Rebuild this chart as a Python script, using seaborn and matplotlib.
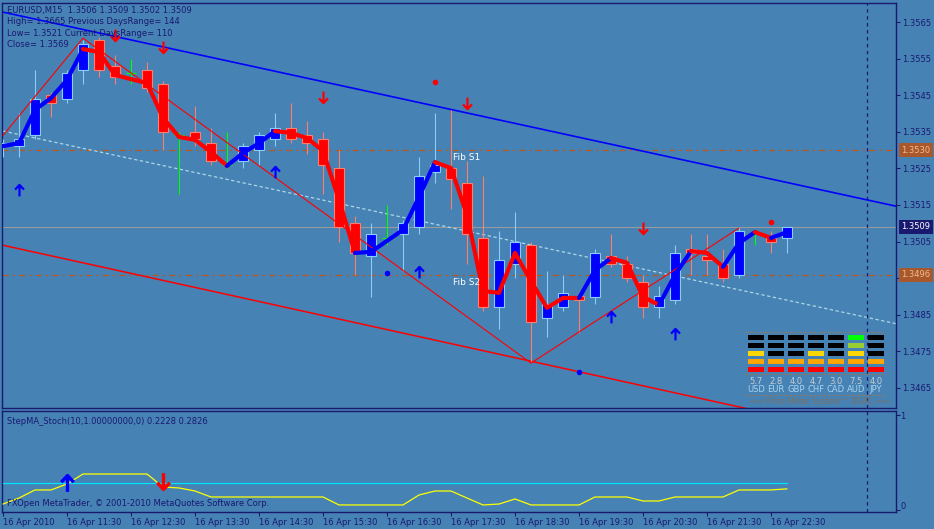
import numpy as np
import pandas as pd
import matplotlib
matplotlib.use("Agg")
import matplotlib.pyplot as plt
import matplotlib.transforms as mtransforms
from matplotlib.path import Path
import seaborn as sns

# ---------------- data ----------------
time_labels = ["16 Apr 2010", "16 Apr 11:30", "16 Apr 12:30", "16 Apr 13:30", "16 Apr 14:30",
               "16 Apr 15:30", "16 Apr 16:30", "16 Apr 17:30", "16 Apr 18:30", "16 Apr 19:30",
               "16 Apr 20:30", "16 Apr 21:30", "16 Apr 22:30"]
time_label_bars = [0, 4, 8, 12, 16, 20, 24, 28, 32, 36, 40, 44, 48]

opens = [1.3531, 1.3531, 1.3534, 1.3545, 1.3544, 1.3552, 1.3560, 1.3553, 1.3551, 1.3552,
         1.3548, 1.3534, 1.3535, 1.3532, 1.3526, 1.3527, 1.3530, 1.3533, 1.3536, 1.3534,
         1.3533, 1.3525, 1.3510, 1.3501, 1.3506, 1.3507, 1.3509, 1.3524, 1.3525, 1.3521,
         1.3506, 1.3487, 1.3499, 1.3504, 1.3484, 1.3487, 1.3490, 1.3490, 1.3501, 1.3499,
         1.3494, 1.3487, 1.3489, 1.3503, 1.3501, 1.3499, 1.3496, 1.3507, 1.3506, 1.3506]
highs = [1.3533, 1.3540, 1.3552, 1.3546, 1.3552, 1.3560, 1.3561, 1.3556, 1.3555, 1.3554,
         1.3549, 1.3535, 1.3542, 1.3536, 1.3535, 1.3532, 1.3535, 1.3540, 1.3543, 1.3538,
         1.3535, 1.3530, 1.3512, 1.3510, 1.3515, 1.3511, 1.3528, 1.3540, 1.3541, 1.3527,
         1.3523, 1.3508, 1.3513, 1.3505, 1.3497, 1.3496, 1.3491, 1.3503, 1.3507, 1.3501,
         1.3496, 1.3493, 1.3504, 1.3507, 1.3507, 1.3503, 1.3509, 1.3508, 1.3508, 1.3509]
lows = [1.3528, 1.3528, 1.3533, 1.3539, 1.3543, 1.3548, 1.3550, 1.3548, 1.3548, 1.3546,
        1.3530, 1.3518, 1.3531, 1.3526, 1.3525, 1.3525, 1.3526, 1.3531, 1.3532, 1.3529,
        1.3518, 1.3505, 1.3496, 1.3490, 1.3504, 1.3497, 1.3507, 1.3521, 1.3514, 1.3499,
        1.3486, 1.3481, 1.3495, 1.3472, 1.3479, 1.3486, 1.3480, 1.3488, 1.3498, 1.3494,
        1.3484, 1.3484, 1.3488, 1.3496, 1.3496, 1.3494, 1.3495, 1.3504, 1.3502, 1.3502]
closes = [1.3532, 1.3533, 1.3544, 1.3543, 1.3551, 1.3559, 1.3552, 1.3550, 1.3551, 1.3547,
          1.3535, 1.3534, 1.3533, 1.3527, 1.3526, 1.3531, 1.3534, 1.3536, 1.3533, 1.3532,
          1.3526, 1.3509, 1.3502, 1.3507, 1.3506, 1.3510, 1.3523, 1.3526, 1.3522, 1.3507,
          1.3487, 1.3500, 1.3505, 1.3483, 1.3488, 1.3491, 1.3489, 1.3502, 1.3499, 1.3495,
          1.3487, 1.3490, 1.3502, 1.3502, 1.3500, 1.3495, 1.3508, 1.3507, 1.3505, 1.3509]

step_ma = [1.35311, 1.35319, 1.35410, 1.35442, 1.35492, 1.35576, 1.35568, 1.35505, 1.35494, 1.35483,
           1.35388, 1.35336, 1.35328, 1.35295, 1.35257, 1.35292, 1.35319, 1.35352, 1.35347, 1.35333,
           1.35298, 1.35164, 1.35019, 1.35022, 1.35052, 1.35082, 1.35172, 1.35267, 1.35251, 1.35123,
           1.34915, 1.34910, 1.35019, 1.34942, 1.34869, 1.34896, 1.34896, 1.34972, 1.35005, 1.34992,
           1.34899, 1.34877, 1.34959, 1.35024, 1.35019, 1.34981, 1.35046, 1.35076, 1.35060, 1.35076]
# trend state of each segment (b = up / blue, r = down / red)
step_trend = "bbbbbrrrrrrrrrbbbrrrrrbbbbbrrrrrrrrrbbrrrbbrrbbrb"

stoch_main = [0.063, 0.126, 0.211, 0.211, 0.274, 0.379, 0.379, 0.379, 0.379, 0.379,
              0.242, 0.232, 0.200, 0.137, 0.137, 0.137, 0.137, 0.137, 0.137, 0.137,
              0.137, 0.053, 0.053, 0.053, 0.053, 0.053, 0.158, 0.200, 0.200, 0.126,
              0.053, 0.063, 0.116, 0.053, 0.053, 0.053, 0.053, 0.137, 0.137, 0.137,
              0.095, 0.095, 0.137, 0.137, 0.137, 0.137, 0.211, 0.211, 0.211, 0.2228]
stoch_signal = [0.2826] * 50

# chart objects
upper_trend_x = [0, 56]
upper_trend_y = [1.35677, 1.35145]
lower_trend_x = [0, 50]
lower_trend_y = [1.35040, 1.34560]
mid_trend_x = [0, 56]
mid_trend_y = [1.35352, 1.34824]
zigzag_x = [0, 5, 33, 46]
zigzag_y = [1.35340, 1.35606, 1.34718, 1.35087]
fib_levels = [1.3530, 1.3496]
fib_names = ["Fib S1", "Fib S2"]
fib_label_bar = 28.1
shift_bar = 54

up_arrow_bars = [1, 17, 26, 38, 42]
up_arrow_prices = [1.35191, 1.35240, 1.34967, 1.34844, 1.34798]
down_arrow_bars = [7, 10, 20, 29, 40]
down_arrow_prices = [1.35615, 1.35582, 1.35445, 1.35429, 1.35087]
red_dot_bars = [27, 48]
red_dot_prices = [1.35486, 1.35104]
blue_dot_bars = [24, 36]
blue_dot_prices = [1.34964, 1.34694]

sub_up_bar, sub_up_val = 4, 0.284
sub_dn_bar, sub_dn_val = 10, 0.305

price_ticks = [1.3565, 1.3555, 1.3545, 1.3535, 1.3525, 1.3515, 1.3505, 1.3495, 1.3485, 1.3475, 1.3465]

meter_currencies = ["USD", "EUR", "GBP", "CHF", "CAD", "AUD", "JPY"]
meter_values = [5.7, 2.8, 4.0, 4.7, 3.0, 7.5, 4.0]
meter_levels = [3, 2, 2, 3, 2, 5, 2]

header_lines = ["EURUSD,M15  1.3506 1.3509 1.3502 1.3509",
                "High= 1.3665 Previous DaysRange= 144",
                "Low= 1.3521 Current DaysRange= 110",
                "Close= 1.3569"]

# ---------------- style ----------------
BG = "#4682B4"
NAVY = "#191970"
FIB = "#b8581f"
sns.set_theme(style="white", rc={"axes.facecolor": BG, "figure.facecolor": BG})
plt.rcParams["font.family"] = ["DejaVu Sans"]
plt.rcParams["lines.scale_dashes"] = False

W, H = 934, 529
def fx(px):
    return px / W
def fy(py):
    return 1 - py / H

# arrow markers (chevron head + shaft)
UP_ARROW = Path([(-0.75, 0.15), (0.0, 0.95), (0.75, 0.15), (0.0, 0.95), (0.0, -1.0)],
                [Path.MOVETO, Path.LINETO, Path.LINETO, Path.MOVETO, Path.LINETO])
DN_ARROW = Path([(-0.75, -0.15), (0.0, -0.95), (0.75, -0.15), (0.0, -0.95), (0.0, 1.0)],
                [Path.MOVETO, Path.LINETO, Path.LINETO, Path.MOVETO, Path.LINETO])

fig = plt.figure(figsize=(W / 100, H / 100), dpi=100)
ax = fig.add_axes([fx(2), fy(408), fx(896) - fx(2), fy(3) - fy(408)])
axs = fig.add_axes([fx(2), fy(512), fx(896) - fx(2), fy(411) - fy(512)])

xlim = ((2 - 3) / 16, (896 - 3) / 16)
ax.set_xlim(*xlim)
ax.set_ylim(1.3565 - 386 / 36600, 1.3565 + 19 / 36600)
axs.set_xlim(*xlim)
axs.set_ylim(-0.021, 1.042)

for a in (ax, axs):
    a.set_facecolor(BG)
    for s in a.spines.values():
        s.set_color(NAVY)
        s.set_linewidth(1.0)

df = pd.DataFrame({"bar": np.arange(len(opens)), "open": opens, "high": highs,
                   "low": lows, "close": closes})
up = df[df.close > df.open]
dn = df[df.close < df.open]
dj = df[df.close == df.open]

# horizontal lines (behind candles)
ax.axhline(closes[-1], color="#9a9a9a", lw=0.8, zorder=1)
for lvl, name in zip(fib_levels, fib_names):
    ax.axhline(lvl, color=FIB, lw=0.9, dashes=(4.5, 3.0, 1.5, 3.0), zorder=1)
    ax.annotate(name, (fib_label_bar, lvl), xytext=(0, -2.2), textcoords="offset points",
                color="white", fontsize=6.5, ha="left", va="top", zorder=8)

ax.plot(mid_trend_x, mid_trend_y, color="#add8e6", lw=0.9, dashes=(2.4, 1.8), zorder=1.5)
ax.plot(upper_trend_x, upper_trend_y, color="#0000ff", lw=1.2, zorder=1.5)
ax.plot(lower_trend_x, lower_trend_y, color="#ff0000", lw=1.1, zorder=1.5)

# candles
BW = 0.64
ax.vlines(up.bar, up.low, up.high, color="#87cefa", lw=0.8, zorder=3)
ax.vlines(dn.bar, dn.low, dn.high, color="#fa8072", lw=0.8, zorder=3)
ax.bar(up.bar, up.close - up.open, bottom=up.open, width=BW, color="#0000ff",
       edgecolor="#87cefa", linewidth=0.8, zorder=4)
ax.bar(dn.bar, dn.open - dn.close, bottom=dn.close, width=BW, color="#ff0000",
       edgecolor="#fa8072", linewidth=0.8, zorder=4)
ax.vlines(dj.bar, dj.low, dj.high, color="#00ff00", lw=0.8, zorder=4)
ax.hlines(dj.open, dj.bar - BW / 2, dj.bar + BW / 2, color="#00ff00", lw=0.8, zorder=4)

# zigzag
ax.plot(zigzag_x, zigzag_y, color="#ff0000", lw=0.8, zorder=6)

# step MA thick line, coloured by trend runs
bars = np.arange(len(step_ma))
i = 0
while i < len(step_trend):
    j = i
    while j + 1 < len(step_trend) and step_trend[j + 1] == step_trend[i]:
        j += 1
    seg = pd.DataFrame({"bar": bars[i:j + 2], "v": step_ma[i:j + 2]})
    sns.lineplot(data=seg, x="bar", y="v", ax=ax, sort=False, estimator=None,
                 color="#0000ff" if step_trend[i] == "b" else "#ff0000",
                 lw=3.0, zorder=7, solid_joinstyle="round", solid_capstyle="round")
    i = j + 1

# markers
ax.plot(up_arrow_bars, up_arrow_prices, linestyle="none", marker=UP_ARROW, ms=8.5,
        mew=1.6, color="#0000ff", mfc="none", zorder=9)
ax.plot(down_arrow_bars, down_arrow_prices, linestyle="none", marker=DN_ARROW, ms=8.5,
        mew=1.6, color="#ff0000", mfc="none", zorder=9)
ax.plot(red_dot_bars, red_dot_prices, "o", color="#ff0000", ms=4, mec="none", zorder=9)
ax.plot(blue_dot_bars, blue_dot_prices, "o", color="#0000ff", ms=4, mec="none", zorder=9)

# vertical shift line
for a in (ax, axs):
    a.axvline(shift_bar, color=NAVY, lw=0.9, dashes=(2.5, 2.5), zorder=2)

ax.set_xlabel("")
ax.set_ylabel("")
ax.set_xticks([])
ax.yaxis.tick_right()
ax.set_yticks(price_ticks)
# the 1.3495 label is hidden behind the Fib S2 price box in the chart
ax.set_yticklabels(["" if abs(v - 1.3495) < 1e-6 else f"{v:.4f}" for v in price_ticks])
ax.tick_params(axis="y", right=True, left=False, length=3, width=0.8, colors=NAVY,
               labelsize=6, pad=1.5, direction="out")

blend = mtransforms.blended_transform_factory(ax.transAxes, ax.transData)
box_x = (901.5 - 2) / 894
for lvl in fib_levels:
    ax.text(box_x, lvl, f"{lvl:.4f}", transform=blend, ha="left", va="center", fontsize=6,
            color="#f2bd8e", clip_on=False, zorder=20,
            bbox=dict(boxstyle="square,pad=0.3", fc="#a9582b", ec="none"))
ax.text(box_x, closes[-1], f"{closes[-1]:.4f}", transform=blend, ha="left", va="center",
        fontsize=6, color="white", clip_on=False, zorder=20,
        bbox=dict(boxstyle="square,pad=0.3", fc=NAVY, ec="none"))

# ---------------- sub window ----------------
sub = pd.DataFrame({"bar": np.arange(len(stoch_main)), "main": stoch_main, "signal": stoch_signal})
sns.lineplot(data=sub, x="bar", y="signal", ax=axs, color="#00e5ff", lw=0.9, zorder=3)
sns.lineplot(data=sub, x="bar", y="main", ax=axs, color="#ffff00", lw=0.9, zorder=4)
axs.plot([sub_up_bar], [sub_up_val], linestyle="none", marker=UP_ARROW, ms=12, mew=2.4,
         color="#0000ff", mfc="none", zorder=6)
axs.plot([sub_dn_bar], [sub_dn_val], linestyle="none", marker=DN_ARROW, ms=12, mew=2.4,
         color="#ff0000", mfc="none", zorder=6)
axs.set_xlabel("")
axs.set_ylabel("")
axs.yaxis.tick_right()
axs.set_yticks([0, 1])
axs.set_yticklabels(["", ""])
axs.tick_params(axis="y", right=True, left=False, length=3, width=0.8, colors=NAVY)
sblend = mtransforms.blended_transform_factory(axs.transAxes, axs.transData)
axs.text((900 - 2) / 894, 0.979, "1", transform=sblend, fontsize=6, color=NAVY,
         ha="left", va="center", clip_on=False)
axs.text((900 - 2) / 894, 0.042, "0", transform=sblend, fontsize=6, color=NAVY,
         ha="left", va="center", clip_on=False)
axs.set_xticks(time_label_bars)
axs.set_xticklabels(time_labels, ha="left")
axs.tick_params(axis="x", bottom=True, length=3, width=0.8, colors=NAVY, labelsize=6,
                pad=1.2, direction="out")

# ---------------- texts ----------------
for n, line in enumerate(header_lines):
    fig.text(fx(7), fy(10.5 + 11.4 * n), line, fontsize=6, color=NAVY, va="center", ha="left")
fig.text(fx(7), fy(421), "StepMA_Stoch(10,1.00000000,0) 0.2228 0.2826", fontsize=6,
         color=NAVY, va="center", ha="left")
fig.text(fx(7), fy(504), "FXOpen MetaTrader, \u00a9 2001-2010 MetaQuotes Software Corp.",
         fontsize=6, color=NAVY, va="center", ha="left")

# ---------------- price meter ----------------
pm = fig.add_axes([fx(744), fy(406), fx(888) - fx(744), fy(329) - fy(406)])
pm.set_xlim(-0.6, 6.6)
pm.set_ylim(8.625, -1.0)
pm.axis("off")
pm.patch.set_alpha(0)
row_colors = ["#00ff00", "#9acd32", "#ffd700", "#ffa500", "#ff0000"]
cols = np.arange(len(meter_currencies))
for r in range(5):
    colors = [row_colors[r] if lvl >= 5 - r else "#000000" for lvl in meter_levels]
    pm.bar(cols, 0.625, bottom=r - 0.3125, width=0.8, color=colors, linewidth=0)
pm.hlines([-0.625, 4.625, 7.25], -0.55, 6.45, colors="#8a7a66", lw=0.9,
          linestyles=(0, (2, 1.5)))
for c, v, name in zip(cols, meter_values, meter_currencies):
    pm.text(c, 5.6, f"{v:.1f}", ha="center", va="center", fontsize=6, color="#c8cdd2")
    pm.text(c, 6.6, name, ha="center", va="center", fontsize=6, color="#a8d4f0")
pm.text(3.2, 8.0, "\u00ab\u00ab\u00ab Price Meter System\u2122 \u00a9GPL \u00bb\u00bb\u00bb",
        ha="center", va="center", fontsize=5.5, color="#7d7060", clip_on=False)

fig.savefig("out.png", dpi=100, facecolor=BG)
